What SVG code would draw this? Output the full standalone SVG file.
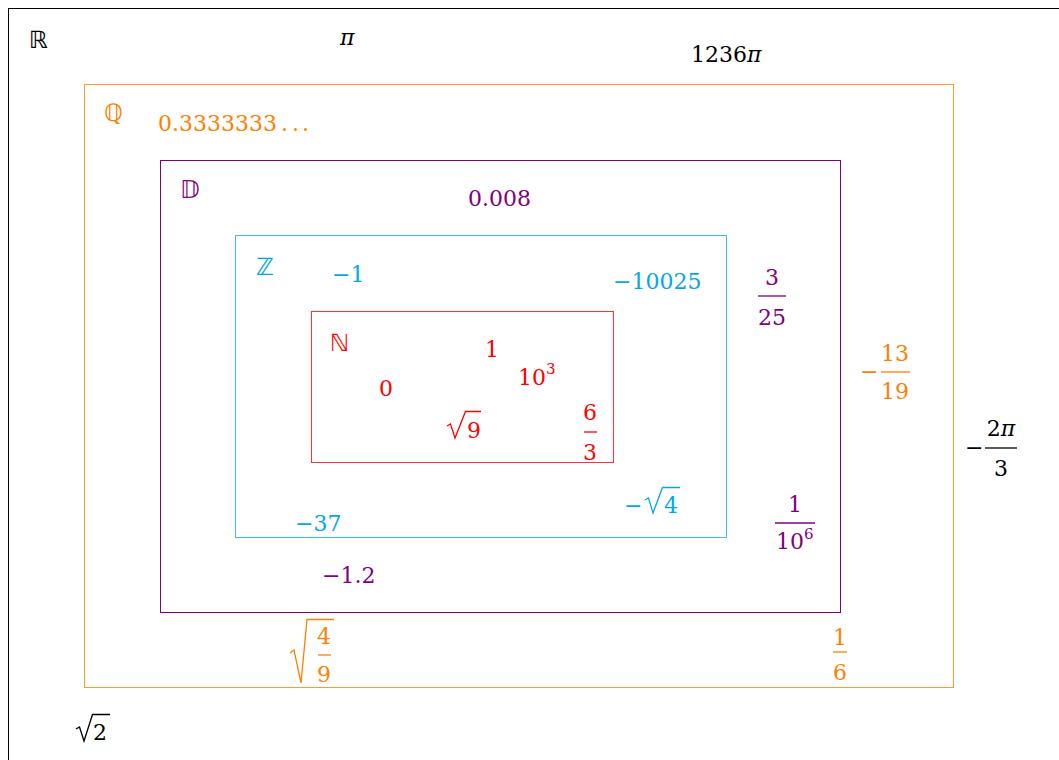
<svg xmlns="http://www.w3.org/2000/svg" width="1059" height="760" viewBox="0 0 1059 760">
<style>
text{font-family:"DejaVu Serif","Liberation Serif",serif;font-size:22px}
.ds{font-family:"DejaVu Sans","Noto Sans",sans-serif;font-size:24px}
.it{font-style:italic}
.m{text-anchor:middle}
.k{fill:#000}.o{fill:#ff8000}.p{fill:#800080}.b{fill:#00a8e8}.r{fill:#ff0000}
.box{fill:none;stroke-width:1}
.fl{stroke-width:1.3}
.rad{fill:none;stroke-width:1.3;stroke-linejoin:miter}
</style>
<rect x="8.5" y="8.5" width="1060" height="760" fill="#fff" stroke="#000" stroke-width="1"/>
<g id="set-R">
<text class="ds k" x="29" y="48">ℝ</text>
<text class="k it" x="340" y="45">π</text>
<text class="k" x="691" y="62">1236<tspan class="it">π</tspan></text>
<g id="frac-2pi3">
<text class="k" x="965" y="455">−</text>
<line class="fl" x1="985" y1="448" x2="1017" y2="448" stroke="#000"/>
<text class="k m" x="1001" y="436">2<tspan class="it">π</tspan></text>
<text class="k m" x="1001" y="476">3</text>
</g>
<g id="sqrt2">
<path class="rad" d="M76,729 L79.5,727 L84,741 L92.5,714.5 H110" stroke="#000"/>
<text class="k" x="93" y="740">2</text>
</g>
</g>
<g id="set-Q">
<rect class="box" x="84.5" y="84.5" width="869" height="603" stroke="#ff9a33"/>
<text class="ds o" x="104" y="121">ℚ</text>
<text class="o" x="158" y="131">0.3333333<tspan x="281">.</tspan><tspan x="292">.</tspan><tspan x="302">.</tspan></text>
<g id="frac-13-19">
<text class="o" x="860" y="379">−</text>
<line class="fl" x1="881" y1="372" x2="910" y2="372" stroke="#ff8000"/>
<text class="o m" x="895" y="361">13</text>
<text class="o m" x="895" y="399">19</text>
</g>
<g id="sqrt-4-9">
<path class="rad" d="M290,653 L294,650 L301,683 L307,619.5 H334" stroke="#ff8000"/>
<text class="o m" x="324" y="644">4</text>
<line class="fl" x1="318" y1="655" x2="331" y2="655" stroke="#ff8000"/>
<text class="o m" x="324" y="682">9</text>
</g>
<g id="frac-1-6">
<text class="o m" x="840" y="645">1</text>
<line class="fl" x1="833" y1="652" x2="847" y2="652" stroke="#ff8000"/>
<text class="o m" x="840" y="680">6</text>
</g>
</g>
<g id="set-D">
<rect class="box" x="160.5" y="160.5" width="680" height="452" stroke="#800080"/>
<text class="ds p" x="180" y="198">𝔻</text>
<text class="p" x="468" y="206">0.008</text>
<g id="frac-3-25">
<text class="p m" x="772" y="285">3</text>
<line class="fl" x1="758" y1="296" x2="786" y2="296" stroke="#800080"/>
<text class="p m" x="772" y="325">25</text>
</g>
<g id="frac-1-10e6">
<text class="p m" x="795" y="512">1</text>
<line class="fl" x1="775" y1="523" x2="815" y2="523" stroke="#800080"/>
<text class="p" x="776" y="549">10<tspan font-size="15" dy="-10">6</tspan></text>
</g>
<text class="p" x="322" y="583">−1.2</text>
</g>
<g id="set-Z">
<rect class="box" x="235.5" y="235.5" width="491" height="302" stroke="#3cbcee"/>
<text class="ds b" x="256" y="275">ℤ</text>
<text class="b" x="332" y="282">−1</text>
<text class="b" x="613" y="289">−10025</text>
<g id="neg-sqrt4">
<text class="b" x="624" y="513">−</text>
<path class="rad" d="M645,500 L648.5,498 L653,513 L662.5,487.5 H680" stroke="#00a8e8"/>
<text class="b" x="664" y="513">4</text>
</g>
<text class="b" x="295" y="531">−37</text>
</g>
<g id="set-N">
<rect class="box" x="311.5" y="311.5" width="302" height="151" stroke="#ff3333"/>
<text class="ds r" x="330" y="351">ℕ</text>
<text class="r" x="485" y="357">1</text>
<text class="r" x="518" y="385">10<tspan font-size="15" dy="-11">3</tspan></text>
<text class="r" x="379" y="396">0</text>
<g id="sqrt9">
<path class="rad" d="M447,426 L450.5,424 L455,438 L465.5,411.5 H481" stroke="#ff0000"/>
<text class="r" x="467" y="438">9</text>
</g>
<g id="frac-6-3">
<text class="r m" x="590" y="420">6</text>
<line class="fl" x1="584" y1="432" x2="597" y2="432" stroke="#ff0000"/>
<text class="r m" x="590" y="460">3</text>
</g>
</g>
</svg>
